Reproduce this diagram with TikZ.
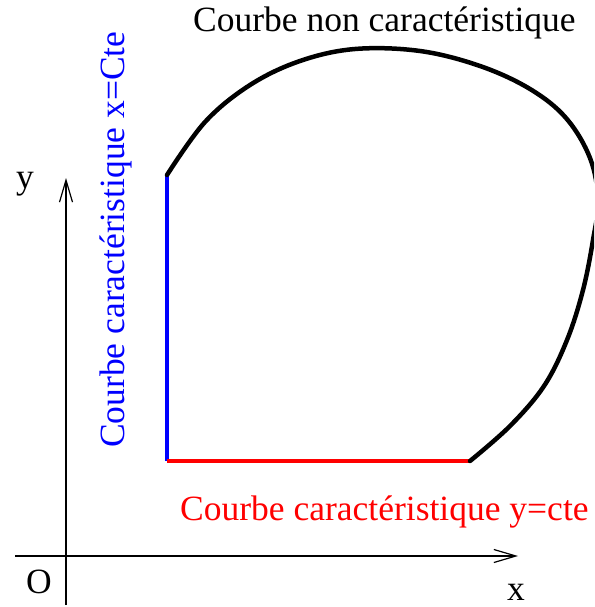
\documentclass[tikz,border=0pt]{standalone}
\usepackage{fontspec}
\setmainfont{Liberation Serif}
\newfontfamily\timesfont{Liberation Serif}
\usetikzlibrary{arrows.meta}
\begin{document}
\begin{tikzpicture}[x=1pt,y=-1pt,
  axis/.style={line width=1.2pt,-{Straight Barb[length=22pt,width=13pt,line width=1.2pt]}},
  lbl/.style={inner sep=0pt,font=\timesfont\fontsize{35.5}{40}\selectfont},
  curve/.style={line width=4.5pt}]
\useasboundingbox (0,0) rectangle (594,607);
\clip (0,0) rectangle (594,607);
% axes
\coordinate (xs) at (15,556);
\coordinate (xe) at (518,556);
\coordinate (ys) at (66,605);
\coordinate (ye) at (66,178);
\draw[axis] (xs) -- (xe);
\draw[axis] (ys) -- (ye);
\node[lbl,anchor=base west] (ylab) at (16,188) {y};
\node[lbl,anchor=base west] (olab) at (26,593) {O};
\node[lbl,anchor=base west] (xlab) at (507,600) {x};
% domain
\coordinate (A) at (167,175);
\coordinate (B) at (167,461);
\coordinate (C) at (470,461);
\draw[curve,blue,line width=4pt] (A) -- (B);
\draw[curve,red,line width=4pt] (B) -- (C);
\draw[curve,line cap=round] plot[smooth,tension=0.6] coordinates {
  (167,175) (205,122) (250,85) (300,61) (355,49) (420,51) (480,66)
  (530,89) (566,118) (590,158) (598,200) (593,240) (583,290)
  (567,340) (544,386) (510,426) (470,461)};
% labels
\node[lbl,anchor=base west] (top) at (193,32) {Courbe non caractéristique};
\node[lbl,anchor=base west,red] (rlab) at (180,520) {Courbe caractéristique y=cte};
\node[lbl,anchor=base west,blue,rotate=90] (blab) at (124,448) {Courbe caractéristique x=Cte};
\end{tikzpicture}
\end{document}
